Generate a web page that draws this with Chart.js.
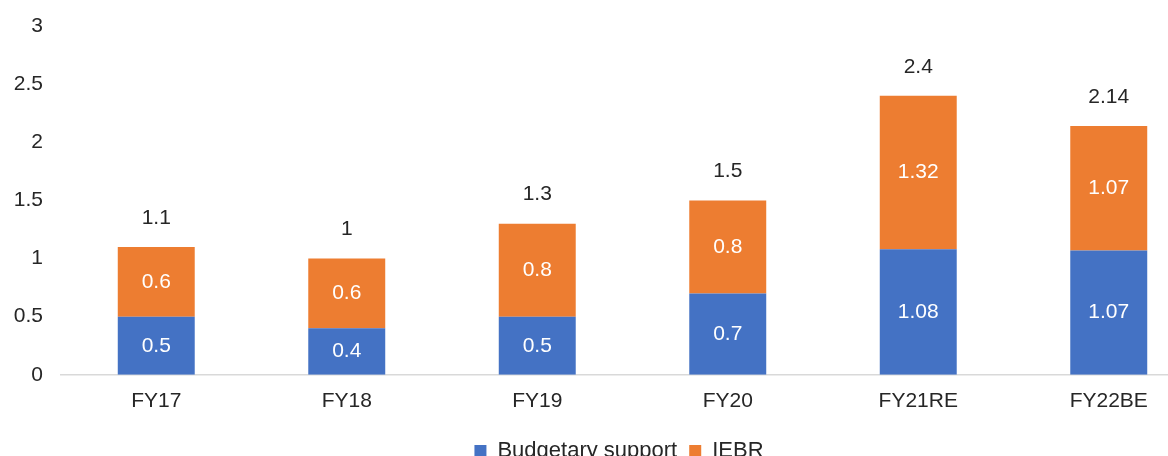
<!DOCTYPE html>
<html>
<head>
<meta charset="utf-8">
<script src="https://cdn.jsdelivr.net/npm/chart.js@4/dist/chart.umd.min.js"></script>
<style>
  html, body { margin: 0; padding: 0; background: #ffffff; overflow: hidden; }
  #wrap { width: 1238px; height: 472px; position: relative; }
</style>
</head>
<body>
<div id="wrap"><canvas id="chart"></canvas></div>
<script>
// Allocation by year (Rs lakh crore)
const categories = ['FY17', 'FY18', 'FY19', 'FY20', 'FY21RE', 'FY22BE'];
const budgetarySupport = [0.5, 0.4, 0.5, 0.7, 1.08, 1.07];
const iebr = [0.6, 0.6, 0.8, 0.8, 1.32, 1.07];
const totals = [1.1, 1, 1.3, 1.5, 2.4, 2.14];
const yTicks = [0, 0.5, 1, 1.5, 2, 2.5, 3];

const FONT = "'Liberation Sans', Arial, sans-serif";
const TEXT = '#262626';

// Writes each segment's value inside it and the stack total above it
const valueLabels = {
  id: 'valueLabels',
  afterDatasetsDraw(chart) {
    const ctx = chart.ctx;
    ctx.save();
    ctx.font = '21px ' + FONT;
    ctx.textAlign = 'center';
    ctx.textBaseline = 'middle';
    chart.data.datasets.forEach((ds, i) => {
      const meta = chart.getDatasetMeta(i);
      meta.data.forEach((bar, j) => {
        ctx.fillStyle = '#ffffff';
        ctx.fillText(String(ds.data[j]), bar.x, (bar.y + bar.base) / 2);
      });
    });
    const topMeta = chart.getDatasetMeta(chart.data.datasets.length - 1);
    topMeta.data.forEach((bar, j) => {
      ctx.fillStyle = TEXT;
      ctx.fillText(String(totals[j]), bar.x, bar.y - 29);
    });
    ctx.restore();
  }
};

// Centre the legend across the full page width rather than the padded box
const legendSpan = {
  id: 'legendSpan',
  afterLayout(chart) {
    if (chart.legend) chart.legend.right += 34;
  }
};

new Chart(document.getElementById('chart'), {
  type: 'bar',
  data: {
    labels: categories,
    datasets: [
      { label: 'Budgetary support', data: budgetarySupport, backgroundColor: '#4472C4' },
      { label: 'IEBR', data: iebr, backgroundColor: '#ED7D31' }
    ]
  },
  options: {
    responsive: true,
    maintainAspectRatio: false,
    animation: false,
    layout: { padding: { top: 26, right: 34, left: 0, bottom: 0 } },
    datasets: { bar: { categoryPercentage: 1, barPercentage: 0.404 } },
    scales: {
      x: {
        stacked: true,
        grid: { display: false, drawTicks: false },
        border: { display: true, color: '#d9d9d9', width: 1.5 },
        ticks: { color: TEXT, font: { family: FONT, size: 21 }, padding: 14 }
      },
      y: {
        stacked: true,
        min: 0,
        max: 3,
        afterBuildTicks(scale) { scale.ticks = yTicks.map(v => ({ value: v })); },
        afterFit(scale) {
          scale.width = 61;
          // let the layout padding alone decide where the plot starts
          scale.paddingTop = 0;
          scale.paddingBottom = 0;
        },
        grid: { display: false, drawTicks: false },
        border: { display: false },
        ticks: {
          color: TEXT,
          font: { family: FONT, size: 21 },
          padding: 18,
          callback: v => String(v)
        }
      }
    },
    plugins: {
      legend: {
        position: 'bottom',
        labels: {
          color: TEXT,
          font: { family: FONT, size: 22 },
          boxWidth: 12,
          boxHeight: 12,
          padding: 12
        }
      },
      tooltip: { enabled: false }
    }
  },
  plugins: [valueLabels, legendSpan]
});
</script>
</body>
</html>
